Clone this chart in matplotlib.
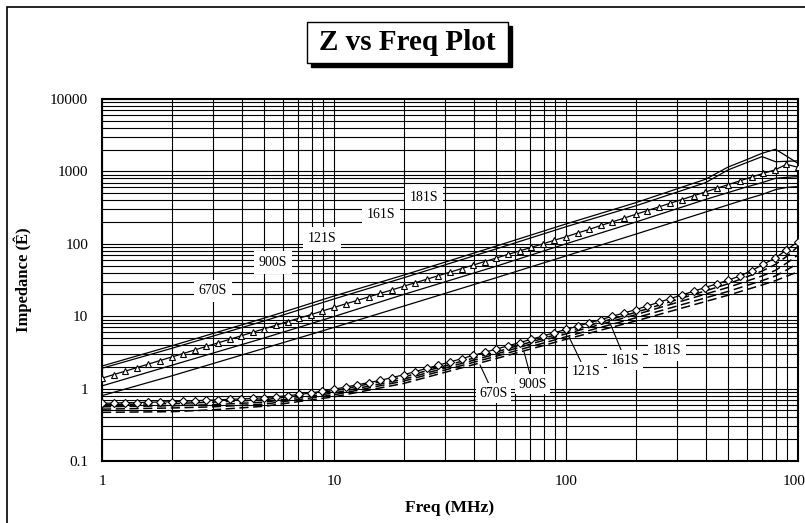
import matplotlib
matplotlib.use("Agg")
import matplotlib.pyplot as plt
from matplotlib.patches import Rectangle
from matplotlib.ticker import LogLocator, FixedLocator, FixedFormatter, NullFormatter

plt.rcParams['font.family'] = ['Liberation Serif', 'DejaVu Serif']

# ---------------- data ----------------
freq_pts = [1.0, 1.122, 1.259, 1.413, 1.585, 1.778, 1.995, 2.239, 2.512, 2.818,
            3.162, 3.548, 3.981, 4.467, 5.012, 5.623, 6.310, 7.079, 7.943, 8.913,
            10.0, 11.22, 12.59, 14.13, 15.85, 17.78, 19.95, 22.39, 25.12, 28.18,
            31.62, 35.48, 39.81, 44.67, 50.12, 56.23, 63.10, 70.79, 79.43, 89.13,
            100.0, 112.2, 125.9, 141.3, 158.5, 177.8, 199.5, 223.9, 251.2, 281.8,
            316.2, 354.8, 398.1, 446.7, 501.2, 562.3, 631.0, 707.9, 794.3, 891.3, 1000.0]

z_121S = [1.39, 1.56, 1.74, 1.95, 2.18, 2.44, 2.73, 3.05, 3.42, 3.83,
          4.28, 4.79, 5.36, 6.00, 6.71, 7.51, 8.41, 9.41, 10.5, 11.8,
          13.2, 14.8, 16.5, 18.5, 20.7, 23.1, 25.9, 29.0, 32.4, 36.3,
          40.6, 45.4, 50.8, 56.9, 63.7, 71.3, 79.7, 89.2, 99.8, 112,
          125, 141, 158, 179, 201, 226, 255, 287, 323, 364,
          409, 461, 519, 585, 658, 741, 834, 938, 1047, 1250, 1140]

d_181S = [0.63, 0.63, 0.64, 0.64, 0.65, 0.65, 0.66, 0.67, 0.68, 0.69,
          0.70, 0.71, 0.72, 0.73, 0.75, 0.77, 0.80, 0.83, 0.87, 0.92,
          0.98, 1.05, 1.13, 1.21, 1.30, 1.42, 1.55, 1.72, 1.90, 2.11,
          2.33, 2.59, 2.87, 3.18, 3.52, 3.90, 4.32, 4.80, 5.32, 5.92,
          6.56, 7.29, 8.09, 8.99, 9.98, 11.1, 12.3, 13.8, 15.6, 17.5,
          19.7, 22.1, 24.9, 28.0, 31.5, 36.0, 42.6, 52.0, 63.1, 82.0, 107]

f_up = [1, 2, 5, 10, 20, 50, 100, 200, 400, 500, 600, 700, 800, 900, 1000]
z_181S = [2.05, 3.9, 9.4, 19.0, 37, 93, 188, 370, 780, 1150, 1450, 1780, 2020, 1600, 1290]
z_161S = [1.91, 3.6, 8.6, 17.3, 34, 85, 172, 335, 700, 1050, 1320, 1600, 1360, 1380, 1400]
z_900S = [1.09, 2.1, 5.0, 9.9, 20, 49, 100, 200, 410, 510, 610, 700, 803, 830, 845]
z_670S = [0.80, 1.5, 3.6, 7.0, 13.8, 34, 68, 136, 275, 345, 415, 480, 560, 603, 617]

f_lo = [1, 2, 3, 5, 10, 20, 50, 100, 200, 500, 700, 800, 900, 1000]
d_161S = [0.60, 0.62, 0.65, 0.70, 0.93, 1.45, 3.2, 6.1, 11.3, 28, 42, 52, 68, 92]
d_121S = [0.56, 0.58, 0.60, 0.65, 0.87, 1.35, 3.0, 5.7, 10.5, 25, 36, 43, 55, 70]
d_900S = [0.52, 0.54, 0.56, 0.61, 0.82, 1.27, 2.8, 5.2, 9.5, 22, 31, 36, 44, 54]
d_670S = [0.47, 0.48, 0.51, 0.57, 0.77, 1.18, 2.6, 4.8, 8.6, 19.5, 27, 31, 36, 41]

upper_labels = ['670S', '900S', '121S', '161S', '181S']
upper_label_pos = [(3.01, 22.3), (5.47, 55.5), (8.9, 119), (15.9, 250), (24.4, 434)]
lower_labels = ['670S', '900S', '121S', '161S', '181S']
lower_label_pos = [(48.6, 0.861), (71.8, 1.157), (121.6, 1.71), (180, 2.48), (272, 3.41)]
lower_label_target = [(42.6, 2.12), (65.9, 3.23), (103, 5.2), (155, 7.98), None]

x_ticks = [1, 10, 100, 1000]
x_ticklabels = ['1', '10', '100', '1000']
y_ticks = [0.1, 1, 10, 100, 1000, 10000]
y_ticklabels = ['0.1', '1', '10', '100', '1000', '10000']

# ---------------- figure ----------------
W, H = 805, 523
fig = plt.figure(figsize=(W / 100, H / 100), dpi=100)

# outer frame (extends past right / bottom edges)
fig.patches.append(Rectangle((7 / W, -0.05), 1.1, 1 - 7 / H + 0.05, transform=fig.transFigure,
                             fill=False, ec='black', lw=1.2, zorder=0))

ax = fig.add_axes([102 / W, 1 - 461 / H, 696 / W, 362 / H])
ax.set_xscale('log')
ax.set_yscale('log')
ax.set_xlim(1, 1000)
ax.set_ylim(0.1, 10000)

ax.grid(True, which='both', color='black', lw=0.8, zorder=0)
ax.set_axisbelow(True)
for s in ax.spines.values():
    s.set_linewidth(1.5)
    s.set_color('black')

ax.xaxis.set_major_locator(FixedLocator(x_ticks))
ax.xaxis.set_major_formatter(FixedFormatter(x_ticklabels))
ax.xaxis.set_minor_locator(LogLocator(base=10, subs=range(2, 10), numticks=20))
ax.xaxis.set_minor_formatter(NullFormatter())
ax.yaxis.set_major_locator(FixedLocator(y_ticks))
ax.yaxis.set_major_formatter(FixedFormatter(y_ticklabels))
ax.yaxis.set_minor_locator(LogLocator(base=10, subs=range(2, 10), numticks=20))
ax.yaxis.set_minor_formatter(NullFormatter())
ax.tick_params(which='both', length=0, labelsize=11)
ax.tick_params(axis='x', pad=10)
ax.tick_params(axis='y', pad=10)

ax.set_xlabel('Freq (MHz)', fontsize=12.5, fontweight='bold', labelpad=9)
ax.set_ylabel('Impedance (Ê)', fontsize=12, fontweight='bold', labelpad=13)

# upper solid lines
for z in (z_181S, z_161S, z_900S, z_670S):
    ax.plot(f_up, z, color='black', lw=0.9, zorder=3)
ax.plot(freq_pts, z_121S, color='black', lw=0.9, marker='^', ms=5,
        mfc='white', mec='black', mew=0.8, zorder=4)

# lower dashed lines
for d in (d_161S, d_121S, d_900S, d_670S):
    ax.plot(f_lo, d, color='black', lw=1.1, ls=(0, (6, 3)), zorder=3)
ax.plot(freq_pts, d_181S, color='black', lw=0.9, marker='D', ms=3.6,
        mfc='white', mec='black', mew=0.8, zorder=4)

box = dict(boxstyle='square,pad=0.35', fc='white', ec='none')
for lab, (x, y) in zip(upper_labels, upper_label_pos):
    ax.text(x, y, lab, ha='center', va='center', fontsize=10, bbox=box, zorder=6)

box2 = dict(boxstyle='square,pad=0.25', fc='white', ec='none')
for lab, (x, y), tgt in zip(lower_labels, lower_label_pos, lower_label_target):
    if tgt is None:
        ax.text(x, y, lab, ha='center', va='center', fontsize=10, bbox=box, zorder=6)
    else:
        ax.annotate(lab, xy=tgt, xytext=(x, y), ha='center', va='center', fontsize=10,
                    bbox=box2, zorder=6,
                    arrowprops=dict(arrowstyle='-', color='black', lw=0.8,
                                    shrinkA=0, shrinkB=0))

# title box with shadow
tx0, ty0, tw, th = 307, 22, 201, 41
fig.patches.append(Rectangle(((tx0 + 4) / W, 1 - (ty0 + th + 4) / H), tw / W, th / H,
                             transform=fig.transFigure, fc='black', ec='black', zorder=5))
fig.patches.append(Rectangle((tx0 / W, 1 - (ty0 + th) / H), tw / W, th / H,
                             transform=fig.transFigure, fc='white', ec='black', lw=1, zorder=6))
fig.text((tx0 + tw / 2) / W, 1 - (ty0 + th / 2) / H, 'Z vs Freq Plot', ha='center', va='center',
         fontsize=21, fontweight='bold', zorder=7)

fig.savefig('out.png', dpi=100)
